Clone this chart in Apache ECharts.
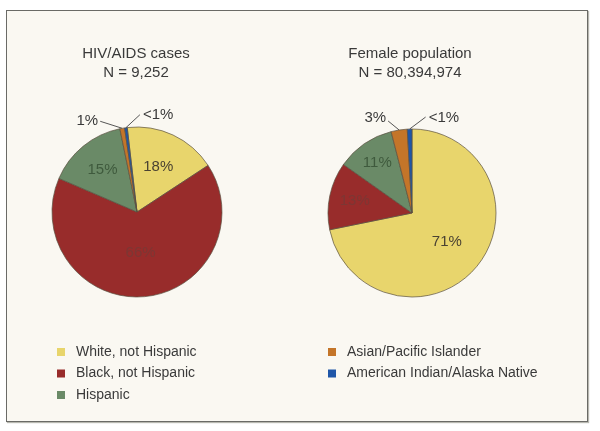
<!DOCTYPE html>
<html>
<head>
<meta charset="utf-8">
<script src="https://cdn.jsdelivr.net/npm/echarts@6/dist/echarts.min.js"></script>
<style>
html,body{margin:0;padding:0;background:#ffffff;}
#frame{position:absolute;left:6px;top:10px;width:580px;height:410px;border:1.5px solid #6a6a66;background:#faf8f2;box-shadow:1px 1px 1px #b8b8b0;}
#chart{position:absolute;left:0;top:0;width:600px;height:431px;}
</style>
</head>
<body>
<div id="frame"></div>
<div id="chart"></div>
<script>
// ---- data ----
var categories = ['White, not Hispanic', 'Black, not Hispanic', 'Hispanic', 'Asian/Pacific Islander', 'American Indian/Alaska Native'];
var hivValues = [17.6, 65.7, 15.3, 0.9, 0.5];
var hivLabels = ['18%', '66%', '15%', '1%', '<1%'];
var popValues = [71.8, 13.0, 11.2, 3.1, 0.9];
var popLabels = ['71%', '13%', '11%', '3%', '<1%'];
var titleLeft = ['HIV/AIDS cases', 'N = 9,252'];
var titleRight = ['Female population', 'N = 80,394,974'];

// ---- styles ----
var colors = ['#e8d56c', '#982c2b', '#6a8a67', '#c47529', '#1f56a8'];
var insideColors = ['#4a4232', '#7c3734', '#3f5a3d', '#4a4232', '#4a4232'];
var font = 'Liberation Sans, Arial, Helvetica, sans-serif';
var leftCenter = [137, 212], rightCenter = [412, 213];

function buildData(values, labels) {
  return values.map(function (v, i) {
    var outside = i >= 3;
    return {
      name: categories[i],
      value: v,
      label: outside ? {
        show: true, position: 'outside', formatter: labels[i],
        color: '#3a3a3a', fontSize: 15, fontFamily: font
      } : {
        show: true, position: 'inside', formatter: labels[i],
        color: insideColors[i], fontSize: 15, fontFamily: font
      },
      labelLine: { show: outside, length: 8, length2: 8, lineStyle: { color: '#555', width: 1 } }
    };
  });
}

function makeLayout(center, radial, offsets) {
  return function (p) {
    var off = offsets[p.dataIndex];
    if (off && p.labelLinePoints) {
      var p0 = p.labelLinePoints[0];
      var p1 = [p0[0] + off[0], p0[1] + off[1]];
      return {
        x: p1[0] + off[2],
        y: p1[1] + off[3],
        align: off[4],
        verticalAlign: 'middle',
        labelLinePoints: [p0, p1]
      };
    }
    var k = radial[p.dataIndex];
    if (k && p.labelRect) {
      var r = p.labelRect;
      var cx = r.x + r.width / 2, cy = r.y + r.height / 2;
      var nx = center[0] + k * (cx - center[0]);
      var ny = center[1] + k * (cy - center[1]);
      return { x: nx, y: ny, align: 'center', verticalAlign: 'middle' };
    }
    return {};
  };
}

var chart = echarts.init(document.getElementById('chart'), null, { renderer: 'canvas' });
var titleStyle = { fontSize: 15, fontWeight: 'normal', color: '#3a3a3a', fontFamily: font, lineHeight: 19, align: 'center' };
var legendText = { fontSize: 14, color: '#3a3a3a', fontFamily: font, lineHeight: 14, padding: [0, 0, 0, 6] };
var option = {
  backgroundColor: 'transparent',
  color: colors,
  animation: false,
  title: [
    { text: titleLeft.join('\n'), left: 131, top: 39, textAlign: 'center', textStyle: titleStyle },
    { text: titleRight.join('\n'), left: 405, top: 39, textAlign: 'center', textStyle: titleStyle }
  ],
  legend: [
    { orient: 'vertical', left: 52, top: 340, itemWidth: 8, itemHeight: 8, itemGap: 7.5, icon: 'rect',
      itemStyle: { borderWidth: 0 },
      data: categories.slice(0, 3), textStyle: legendText },
    { orient: 'vertical', left: 323, top: 340, itemWidth: 8, itemHeight: 8, itemGap: 7.5, icon: 'rect',
      itemStyle: { borderWidth: 0 },
      data: categories.slice(3), textStyle: legendText }
  ],
  series: [
    {
      type: 'pie', center: leftCenter, radius: 85, startAngle: 96.6, clockwise: true,
      itemStyle: { borderColor: '#5a5040', borderWidth: 0.7 },
      emphasis: { disabled: true },
      data: buildData(hivValues, hivLabels),
      labelLayout: makeLayout(leftCenter, [1.1, 0.9, 1.2], { 3: [-22, -7, -2, 0, 'right'], 4: [14, -13, 3, 0, 'left'] })
    },
    {
      type: 'pie', center: rightCenter, radius: 84, startAngle: 90, clockwise: true,
      itemStyle: { borderColor: '#5a5040', borderWidth: 0.7 },
      emphasis: { disabled: true },
      data: buildData(popValues, popLabels),
      labelLayout: makeLayout(rightCenter, [1.0, 1.3, 1.36], { 3: [-11, -9, -2, -3, 'right'], 4: [16, -12, 3, 1, 'left'] })
    }
  ]
};
chart.setOption(option);
</script>
</body>
</html>
